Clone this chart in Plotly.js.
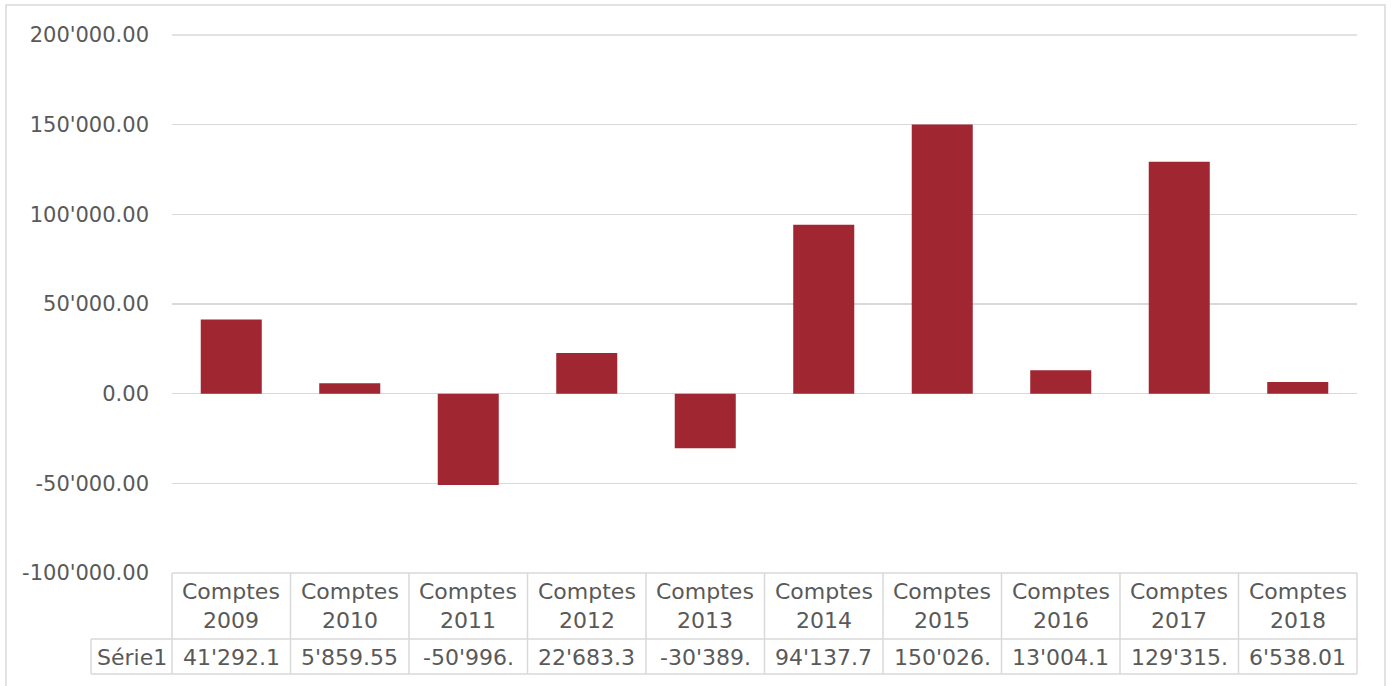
<!DOCTYPE html>
<html>
<head>
<meta charset="utf-8">
<script src="https://cdn.plot.ly/plotly-3.0.1.min.js"></script>
<style>html,body{margin:0;padding:0;background:#fff;}#chart{width:1391px;height:686px;}</style>
</head>
<body>
<div id="chart"></div>
<script>
// ---- data ----
const categories = ["Comptes 2009","Comptes 2010","Comptes 2011","Comptes 2012","Comptes 2013","Comptes 2014","Comptes 2015","Comptes 2016","Comptes 2017","Comptes 2018"];
const headerLines = ["Comptes<br>2009","Comptes<br>2010","Comptes<br>2011","Comptes<br>2012","Comptes<br>2013","Comptes<br>2014","Comptes<br>2015","Comptes<br>2016","Comptes<br>2017","Comptes<br>2018"];
const values = [41292.1, 5859.55, -50996.0, 22683.3, -30389.0, 94137.7, 150026.0, 13004.1, 129315.0, 6538.01];
const tableLabels = ["41'292.1","5'859.55","-50'996.","22'683.3","-30'389.","94'137.7","150'026.","13'004.1","129'315.","6'538.01"];
const seriesName = "Série1";
const yTickVals = [-100000, -50000, 0, 50000, 100000, 150000, 200000];
const yTickText = ["-100'000.00","-50'000.00","0.00","50'000.00","100'000.00","150'000.00","200'000.00"];

// ---- layout helpers ----
const W = 1391, H = 686;
const L = 172, R = 1357, T = 35, B = 573;
const pw = R - L, ph = B - T;
const px = X => (X - L) / pw;
const py = Y => (B - Y) / ph;
const textColor = '#595959';
const lineColor = '#D9D9D9';
const FONT = 'DejaVu Sans, sans-serif';

const trace = {
  type: 'bar',
  x: categories,
  y: values,
  name: seriesName,
  marker: { color: '#A02632', line: { width: 0 } },
  hoverinfo: 'x+y'
};

const annotations = [];
categories.forEach((c, i) => {
  annotations.push({
    xref: 'x', yref: 'paper', x: c, y: py(606),
    text: headerLines[i], showarrow: false,
    font: { family: FONT, size: 22, color: textColor },
    xanchor: 'center', yanchor: 'middle', align: 'center'
  });
  annotations.push({
    xref: 'x', yref: 'paper', x: c, y: py(657),
    text: tableLabels[i], showarrow: false,
    font: { family: FONT, size: 22, color: textColor },
    xanchor: 'center', yanchor: 'middle'
  });
});
annotations.push({
  xref: 'paper', yref: 'paper', x: px(131.5), y: py(657),
  text: seriesName, showarrow: false,
  font: { family: FONT, size: 22, color: textColor },
  xanchor: 'center', yanchor: 'middle'
});

const shapes = [];
const ln = { color: lineColor, width: 1.5 };
// outer chart border
shapes.push({ type: 'rect', xref: 'paper', yref: 'paper', x0: px(6), x1: px(1385), y0: py(5), y1: py(720), line: ln, layer: 'below' });
// top gridline (edge)
shapes.push({ type: 'line', xref: 'paper', yref: 'paper', x0: 0, x1: 1, y0: 1, y1: 1, line: ln, layer: 'below' });
// table grid
const n = categories.length;
for (let k = 0; k <= n; k++) {
  shapes.push({ type: 'line', xref: 'paper', yref: 'paper', x0: k / n, x1: k / n, y0: py(573), y1: py(674), line: ln });
}
shapes.push({ type: 'line', xref: 'paper', yref: 'paper', x0: px(91), x1: 1, y0: py(639), y1: py(639), line: ln });
shapes.push({ type: 'line', xref: 'paper', yref: 'paper', x0: px(91), x1: 1, y0: py(674), y1: py(674), line: ln });
shapes.push({ type: 'line', xref: 'paper', yref: 'paper', x0: px(91), x1: px(91), y0: py(639), y1: py(674), line: ln });
shapes.push({ type: 'line', xref: 'paper', yref: 'paper', x0: 0, x1: 1, y0: 0, y1: 0, line: ln });

const layout = {
  width: W, height: H,
  margin: { l: L, r: W - R, t: T, b: H - B, pad: 0 },
  paper_bgcolor: '#fff', plot_bgcolor: '#fff',
  separators: ".'",
  showlegend: false,
  bargap: 0.485,
  font: { family: FONT, color: textColor },
  xaxis: {
    type: 'category', showticklabels: false, showgrid: false, zeroline: false,
    showline: false, ticks: '', fixedrange: true
  },
  yaxis: {
    range: [-100000, 200000], tickmode: 'array', tickvals: yTickVals, ticktext: yTickText,
    showgrid: true, gridcolor: lineColor, gridwidth: 1.5,
    zeroline: true, zerolinecolor: lineColor, zerolinewidth: 1.5,
    showline: false, ticks: '', ticklabelstandoff: 22,
    tickfont: { family: FONT, size: 21, color: textColor }, fixedrange: true
  },
  annotations: annotations,
  shapes: shapes
};

Plotly.newPlot('chart', [trace], layout, { displayModeBar: false, staticPlot: true });
</script>
</body>
</html>
